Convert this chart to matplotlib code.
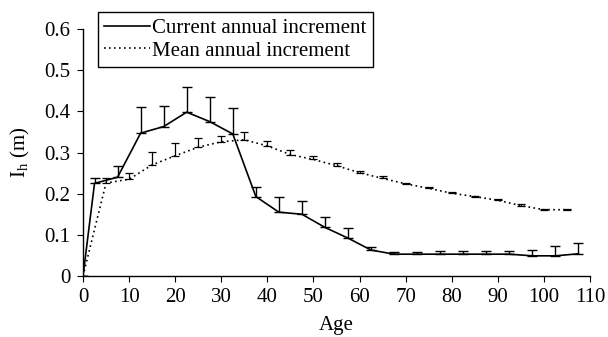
import matplotlib
matplotlib.use("Agg")
import matplotlib.pyplot as plt

plt.rcParams['font.family'] = ['Liberation Serif', 'DejaVu Serif']
plt.rcParams['mathtext.fontset'] = 'custom'
plt.rcParams['mathtext.rm'] = 'Liberation Serif'
plt.rcParams['mathtext.it'] = 'Liberation Serif:italic'

# Current annual increment
cai_age = [0, 2.5, 7.5, 12.5, 17.5, 22.5, 27.5, 32.5, 37.5, 42.5, 47.5, 52.5,
           57.5, 62.5, 67.5, 72.5, 77.5, 82.5, 87.5, 92.5, 97.5, 102.5, 107.5]
cai_val = [0, 0.225, 0.240, 0.347, 0.363, 0.398, 0.375, 0.345, 0.193, 0.155, 0.150, 0.118,
           0.092, 0.063, 0.053, 0.053, 0.053, 0.053, 0.053, 0.053, 0.049, 0.049, 0.054]
cai_err = [0, 0.013, 0.028, 0.063, 0.051, 0.062, 0.061, 0.063, 0.023, 0.038, 0.033, 0.026,
           0.025, 0.008, 0.006, 0.006, 0.007, 0.007, 0.007, 0.007, 0.013, 0.024, 0.026]

# Mean annual increment
mai_age = [0, 5, 10, 15, 20, 25, 30, 35, 40, 45, 50, 55, 60, 65, 70, 75, 80, 85, 90, 95, 100, 105]
mai_val = [0, 0.226, 0.235, 0.270, 0.292, 0.313, 0.326, 0.331, 0.316, 0.295, 0.283, 0.268,
           0.251, 0.237, 0.224, 0.213, 0.201, 0.193, 0.184, 0.171, 0.161, 0.161]
mai_err = [0, 0.012, 0.016, 0.032, 0.032, 0.022, 0.015, 0.018, 0.011, 0.010, 0.008, 0.006,
           0.005, 0.005, 0.003, 0.004, 0.004, 0.002, 0.003, 0.004, 0.002, 0.002]

x_ticks = list(range(0, 111, 10))
y_ticks = [0, 0.1, 0.2, 0.3, 0.4, 0.5, 0.6]
y_tick_labels = ['0', '0.1', '0.2', '0.3', '0.4', '0.5', '0.6']

FS = 15

fig = plt.figure(figsize=(6.08, 3.37), dpi=100)
ax = fig.add_axes([83/608, 1-276/337, (590-83)/608, (276-29)/337])

ax.errorbar(cai_age, cai_val, yerr=[[0]*len(cai_err), cai_err], color='black',
            lw=1.2, elinewidth=1.0, capsize=3.6, capthick=1.0,
            label='Current annual increment')
ax.errorbar(mai_age, mai_val, yerr=[[0]*len(mai_err), mai_err], color='black',
            lw=1.2, ls=(0, (1, 2)), elinewidth=0.9, capsize=3.0, capthick=0.9,
            label='Mean annual increment')

ax.set_xlim(0, 110)
ax.set_ylim(0, 0.6)
ax.set_xticks(x_ticks)
ax.set_yticks(y_ticks)
ax.set_yticklabels(y_tick_labels)
ax.tick_params(labelsize=FS, direction='out', length=4, width=0.8, pad=5)
for s in ['top', 'right']:
    ax.spines[s].set_visible(False)
for s in ['left', 'bottom']:
    ax.spines[s].set_linewidth(1.0)

ax.set_xlabel('Age', fontsize=FS, labelpad=6)
ax.set_ylabel(r'I$_\mathrm{h}$ (m)', fontsize=FS, labelpad=9)

handles, labels = ax.get_legend_handles_labels()
handles = [h[0] for h in handles]
leg = fig.legend(handles, labels, loc='upper left', bbox_to_anchor=(98/608, 1-12/337),
                 bbox_transform=fig.transFigure, borderaxespad=0, fontsize=FS,
                 fancybox=False, frameon=True, edgecolor='black', framealpha=1,
                 handlelength=2.2, handletextpad=0.1, borderpad=0.3, labelspacing=0.15)
leg.get_frame().set_linewidth(1.0)

fig.savefig('out.png', dpi=100)
